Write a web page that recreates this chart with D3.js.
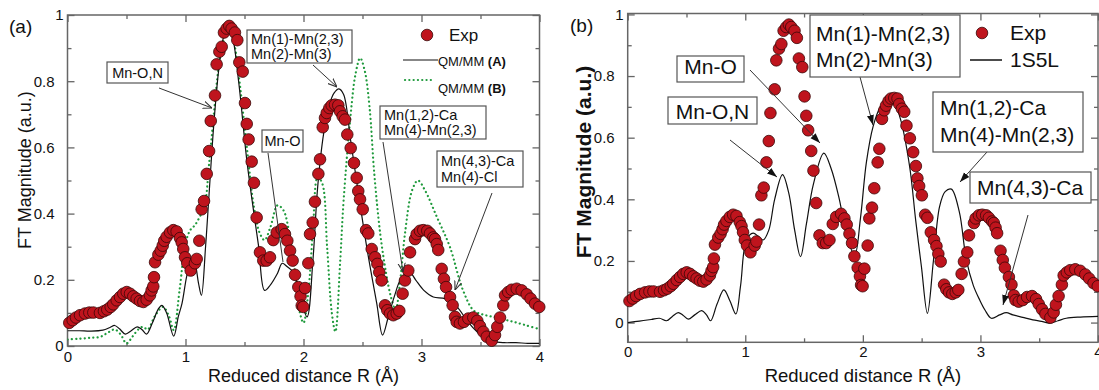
<!DOCTYPE html>
<html><head><meta charset="utf-8">
<script src="https://cdn.jsdelivr.net/npm/d3@7"></script>
<style>
body{margin:0;background:#fff;}
svg{display:block;font-family:"Liberation Sans",Arial,Helvetica,sans-serif;}
</style></head>
<body>
<svg id="chart" width="1099" height="390"></svg>
<script>
// ---------- data ----------
const expR = [0.015,0.044,0.072,0.106,0.148,0.185,0.219,0.275,0.309,0.337,0.366,0.388,0.417,0.445,0.473,0.502,0.530,0.558,0.586,0.614,0.643,0.671,0.699,0.713,0.727,0.733,0.742,0.770,0.790,0.807,0.820,0.840,0.869,0.897,0.925,0.953,0.968,0.981,0.996,1.015,1.044,1.080,1.095,1.117,1.137,1.157,1.180,1.200,1.214,1.250,1.264,1.287,1.307,1.326,1.349,1.371,1.391,1.419,1.439,1.456,1.485,1.504,1.519,1.535,1.561,1.580,1.603,1.631,1.659,1.688,1.716,1.744,1.773,1.815,1.843,1.863,1.886,1.908,1.928,1.956,1.975,1.985,1.998,2.013,2.041,2.055,2.078,2.097,2.126,2.140,2.163,2.182,2.197,2.219,2.239,2.267,2.295,2.309,2.332,2.352,2.371,2.400,2.428,2.451,2.464,2.479,2.502,2.530,2.549,2.578,2.606,2.626,2.642,2.662,2.691,2.710,2.733,2.761,2.790,2.812,2.840,2.860,2.888,2.903,2.945,2.959,2.987,3.015,3.049,3.072,3.100,3.114,3.129,3.142,3.171,3.190,3.208,3.242,3.264,3.284,3.298,3.326,3.360,3.397,3.439,3.473,3.496,3.524,3.553,3.595,3.623,3.642,3.665,3.693,3.708,3.735,3.764,3.807,3.849,3.892,3.925,3.962,3.998];
const expV = [0.070,0.078,0.086,0.093,0.098,0.101,0.101,0.100,0.105,0.110,0.118,0.126,0.138,0.148,0.158,0.163,0.158,0.150,0.143,0.136,0.133,0.140,0.153,0.168,0.180,0.208,0.253,0.276,0.288,0.303,0.318,0.330,0.343,0.350,0.346,0.326,0.313,0.293,0.268,0.250,0.228,0.250,0.263,0.318,0.413,0.438,0.520,0.589,0.680,0.757,0.851,0.889,0.904,0.947,0.959,0.967,0.959,0.947,0.924,0.857,0.829,0.734,0.671,0.624,0.557,0.493,0.388,0.283,0.258,0.258,0.268,0.320,0.343,0.353,0.338,0.318,0.288,0.258,0.215,0.178,0.150,0.122,0.118,0.175,0.250,0.338,0.373,0.436,0.520,0.564,0.661,0.689,0.704,0.719,0.727,0.729,0.727,0.709,0.694,0.684,0.639,0.598,0.553,0.508,0.468,0.443,0.413,0.350,0.340,0.293,0.268,0.248,0.223,0.198,0.123,0.108,0.098,0.093,0.098,0.106,0.158,0.198,0.228,0.283,0.323,0.338,0.348,0.350,0.348,0.340,0.328,0.323,0.308,0.290,0.233,0.203,0.178,0.148,0.123,0.088,0.073,0.068,0.073,0.083,0.086,0.076,0.060,0.043,0.028,0.016,0.033,0.058,0.086,0.123,0.153,0.163,0.170,0.173,0.168,0.156,0.143,0.128,0.118];

const qmA_R = [0,0.1,0.2,0.3,0.36,0.40,0.44,0.49,0.54,0.59,0.63,0.67,0.72,0.77,0.80,0.84,0.90,0.94,0.97,1.01,1.05,1.08,1.11,1.135,1.17,1.20,1.24,1.28,1.32,1.36,1.40,1.45,1.52,1.58,1.62,1.67,1.72,1.78,1.82,1.86,1.92,1.97,2.03,2.08,2.12,2.17,2.22,2.26,2.30,2.34,2.40,2.47,2.54,2.62,2.67,2.72,2.77,2.82,2.86,2.90,2.95,3.02,3.10,3.20,3.30,3.38,3.45,3.50,3.56,3.61,3.70,3.80,3.90,4.0];
const qmA_V = [0.046,0.046,0.045,0.048,0.056,0.062,0.052,0.036,0.046,0.058,0.050,0.036,0.070,0.112,0.123,0.100,0.030,0.090,0.128,0.210,0.265,0.250,0.190,0.153,0.300,0.460,0.670,0.830,0.930,0.964,0.930,0.800,0.560,0.400,0.300,0.168,0.185,0.220,0.250,0.240,0.220,0.150,0.088,0.260,0.480,0.640,0.730,0.765,0.777,0.760,0.620,0.450,0.290,0.130,0.033,0.090,0.150,0.200,0.218,0.223,0.200,0.168,0.148,0.143,0.118,0.080,0.050,0.033,0.020,0.013,0.010,0.010,0.008,0.008];

const qmB_R = [0,0.1,0.2,0.28,0.34,0.40,0.45,0.50,0.55,0.60,0.64,0.68,0.74,0.81,0.86,0.90,0.95,1.00,1.04,1.08,1.12,1.16,1.20,1.24,1.28,1.32,1.36,1.40,1.45,1.52,1.58,1.63,1.67,1.72,1.78,1.83,1.88,1.93,1.97,2.00,2.04,2.08,2.12,2.16,2.20,2.24,2.27,2.31,2.34,2.40,2.44,2.48,2.52,2.56,2.60,2.65,2.70,2.74,2.78,2.82,2.86,2.92,2.97,3.03,3.13,3.24,3.35,3.44,3.52,3.61,3.70,3.78,3.88,3.98];
const qmB_V = [0.020,0.022,0.025,0.028,0.040,0.050,0.035,0.008,0.028,0.050,0.058,0.050,0.090,0.118,0.090,0.048,0.170,0.310,0.350,0.365,0.390,0.420,0.550,0.700,0.840,0.920,0.950,0.930,0.820,0.600,0.420,0.340,0.320,0.360,0.425,0.410,0.340,0.220,0.100,0.070,0.160,0.350,0.510,0.490,0.300,0.100,0.043,0.250,0.440,0.700,0.820,0.870,0.830,0.720,0.520,0.340,0.220,0.150,0.110,0.200,0.340,0.470,0.500,0.470,0.390,0.300,0.170,0.108,0.095,0.088,0.080,0.073,0.063,0.053];

const s5l_R = [0,0.1,0.2,0.27,0.33,0.38,0.43,0.47,0.515,0.57,0.63,0.67,0.705,0.76,0.818,0.87,0.92,0.96,1.01,1.067,1.11,1.152,1.20,1.25,1.317,1.37,1.42,1.47,1.52,1.58,1.668,1.73,1.80,1.87,1.931,1.98,2.03,2.087,2.15,2.243,2.32,2.398,2.45,2.498,2.549,2.60,2.653,2.70,2.753,2.82,2.88,2.94,2.993,3.04,3.093,3.163,3.22,3.276,3.36,3.446,3.52,3.588,3.66,3.73,3.85,4.0];
const s5l_V = [0,0.005,0.010,0.014,0.006,0.020,0.032,0.024,0.011,0.025,0.039,0.025,0.006,0.060,0.106,0.070,0.028,0.120,0.268,0.290,0.280,0.268,0.300,0.400,0.480,0.420,0.300,0.214,0.320,0.450,0.550,0.500,0.400,0.270,0.220,0.340,0.520,0.636,0.700,0.734,0.660,0.506,0.330,0.182,0.030,0.200,0.377,0.425,0.433,0.360,0.204,0.120,0.074,0.040,0.014,0.025,0.032,0.025,0.017,0.009,0.004,-0.002,0.006,0.014,0.018,0.020];

const xTicks = [0,1,2,3,4];
const xMinor = [0.5,1.5,2.5,3.5];
const yTicks = [0,0.2,0.4,0.6,0.8,1];
const yMinor = [0.1,0.3,0.5,0.7,0.9];
const yTickLabels = ["0","0.2","0.4","0.6","0.8","1"];
const xLabel = "Reduced distance R (Å)";
const yLabel = "FT Magnitude (a.u.)";

// ---------- drawing ----------
const svg = d3.select("#chart");
const FRAME = "#666";
const defs = svg.append("defs");
defs.append("marker").attr("id","openHead").attr("viewBox","0 0 10 10")
  .attr("refX",10).attr("refY",5).attr("markerWidth",9).attr("markerHeight",9)
  .attr("markerUnits","userSpaceOnUse").attr("orient","auto")
  .append("path").attr("d","M0,1 L10,5 L0,9").attr("fill","none").attr("stroke","#333").attr("stroke-width",1.2);
defs.append("marker").attr("id","fillHead").attr("viewBox","0 0 10 10")
  .attr("refX",10).attr("refY",5).attr("markerWidth",10).attr("markerHeight",10)
  .attr("markerUnits","userSpaceOnUse").attr("orient","auto")
  .append("path").attr("d","M0,1.5 L10,5 L0,8.5 Z").attr("fill","#111");

function panel(cfg){
  const x = d3.scaleLinear().domain([0,4]).range([cfg.x0,cfg.x1]);
  const y = d3.scaleLinear().domain(cfg.yDom).range([cfg.yBot,cfg.yTop]);
  const g = svg.append("g");
  const tickStyle = sel => { sel.select(".domain").remove(); sel.selectAll("line").attr("stroke",FRAME).attr("stroke-width",1.3); };
  g.append("g").attr("transform",`translate(0,${cfg.yBot})`)
    .call(d3.axisBottom(x).tickValues(xTicks).tickSize(-7).tickPadding(cfg.xPad).tickFormat(d3.format("d")))
    .call(tickStyle)
    .selectAll("text").attr("font-size",15).attr("fill","#111").attr("font-family","Liberation Sans, Arial, sans-serif");
  g.append("g").attr("transform",`translate(0,${cfg.yBot})`)
    .call(d3.axisBottom(x).tickValues(xMinor).tickSize(-4).tickFormat("")).call(tickStyle);
  g.append("g").attr("transform",`translate(0,${cfg.yTop})`)
    .call(d3.axisTop(x).tickValues(xTicks).tickSize(-7).tickFormat("")).call(tickStyle);
  g.append("g").attr("transform",`translate(0,${cfg.yTop})`)
    .call(d3.axisTop(x).tickValues(xMinor).tickSize(-4).tickFormat("")).call(tickStyle);
  const ly = g.append("g").attr("transform",`translate(${cfg.x0},0)`)
    .call(d3.axisLeft(y).tickValues(yTicks).tickSize(-7).tickFormat((d,i)=>yTickLabels[i]))
    .call(tickStyle);
  ly.selectAll("text").attr("font-size",15).attr("fill","#111").attr("font-family","Liberation Sans, Arial, sans-serif")
    .attr("x",(d)=> (d===0||d===1) ? -4 : -13);
  g.append("g").attr("transform",`translate(${cfg.x0},0)`)
    .call(d3.axisLeft(y).tickValues(yMinor).tickSize(-4).tickFormat("")).call(tickStyle);
  g.append("g").attr("transform",`translate(${cfg.x1},0)`)
    .call(d3.axisRight(y).tickValues(yTicks).tickSize(-7).tickFormat("")).call(tickStyle);
  g.append("g").attr("transform",`translate(${cfg.x1},0)`)
    .call(d3.axisRight(y).tickValues(yMinor).tickSize(-4).tickFormat("")).call(tickStyle);
  g.append("rect").attr("x",cfg.x0).attr("y",cfg.yTop).attr("width",cfg.x1-cfg.x0).attr("height",cfg.yBot-cfg.yTop)
    .attr("fill","none").attr("stroke",FRAME).attr("stroke-width",1.5);

  const clipId = "clip"+cfg.name;
  defs.append("clipPath").attr("id",clipId).append("rect")
    .attr("x",cfg.x0).attr("y",cfg.yTop).attr("width",cfg.x1-cfg.x0).attr("height",cfg.yBot-cfg.yTop);
  const plot = g.append("g").attr("clip-path",`url(#${clipId})`);
  const line = d3.line().x(d=>x(d[0])).y(d=>y(d[1])).curve(d3.curveCatmullRom.alpha(0.5));
  cfg.lines.forEach(L=>{
    plot.append("path").datum(d3.zip(L.r,L.v)).attr("d",line).attr("fill","none")
      .attr("stroke",L.color).attr("stroke-width",L.w).attr("stroke-dasharray",L.dash||null)
      .attr("stroke-linecap",L.cap||"butt");
  });
  g.append("g").selectAll("circle").data(d3.zip(expR,expV)).join("circle")
    .attr("cx",d=>x(d[0])).attr("cy",d=>y(d[1])).attr("r",5.8)
    .attr("fill","#bf141d").attr("stroke","#3a0808").attr("stroke-width",0.8);

  g.append("text").attr("x",(cfg.x0+cfg.x1)/2).attr("y",382).attr("text-anchor","middle")
    .attr("font-size",cfg.xLabSize).attr("fill","#111").text(xLabel);
  g.append("text").attr("transform",`translate(${cfg.yLabX},${cfg.yLabY}) rotate(-90)`).attr("text-anchor","middle")
    .attr("font-size",cfg.yLabSize).attr("font-weight",cfg.yLabWeight).attr("fill","#111").text(yLabel);
  g.append("text").attr("x",cfg.tagX).attr("y",cfg.tagY).attr("font-size",19).attr("fill","#111").text(cfg.tag);
  return {x,y,g};
}

const pa = panel({name:"a",x0:67.5,x1:539.5,yTop:15,yBot:346,yDom:[0,1],xPad:5,
  xLabSize:18,yLabSize:18,yLabWeight:"normal",yLabX:31,yLabY:170,tag:"(a)",tagX:9,tagY:33,
  lines:[
    {r:qmB_R,v:qmB_V,color:"#1f9a3c",w:2.2,dash:"0.1,4.2",cap:"round"},
    {r:qmA_R,v:qmA_V,color:"#111",w:1.2}
  ]});
const pb = panel({name:"b",x0:627.7,x1:1098,yTop:13.5,yBot:342.3,yDom:[-0.064,1.003],xPad:4,
  xLabSize:18.5,yLabSize:21,yLabWeight:"bold",yLabX:591,yLabY:162,tag:"(b)",tagX:570,tagY:32,
  lines:[{r:s5l_R,v:s5l_V,color:"#111",w:1.2}]});

// ---------- legends ----------
const lg = svg.append("g").attr("fill","#111");
lg.append("circle").attr("cx",427).attr("cy",35).attr("r",5.8).attr("fill","#bf141d").attr("stroke","#3a0808").attr("stroke-width",0.8);
lg.append("text").attr("x",449).attr("y",41).attr("font-size",17).text("Exp");
lg.append("line").attr("x1",403).attr("x2",438).attr("y1",60).attr("y2",60).attr("stroke","#111").attr("stroke-width",1.2);
const tA = lg.append("text").attr("x",438).attr("y",66).attr("font-size",13);
tA.append("tspan").text("QM/MM ");
tA.append("tspan").attr("font-weight","bold").text("(A)");
lg.append("line").attr("x1",405).attr("x2",433).attr("y1",80).attr("y2",80).attr("stroke","#1f9a3c").attr("stroke-width",2.2).attr("stroke-dasharray","0.1,4.2").attr("stroke-linecap","round");
const tB = lg.append("text").attr("x",438).attr("y",93).attr("font-size",13);
tB.append("tspan").text("QM/MM ");
tB.append("tspan").attr("font-weight","bold").text("(B)");

lg.append("circle").attr("cx",982).attr("cy",33).attr("r",5.8).attr("fill","#bf141d").attr("stroke","#3a0808").attr("stroke-width",0.8);
lg.append("text").attr("x",1010).attr("y",40).attr("font-size",21).text("Exp");
lg.append("line").attr("x1",970).attr("x2",1002).attr("y1",60).attr("y2",60).attr("stroke","#111").attr("stroke-width",1.5);
lg.append("text").attr("x",1010).attr("y",67).attr("font-size",21).text("1S5L");

// ---------- annotations ----------
const annA = [
  {lines:["Mn-O,N"],bx:107,by:62,bw:61,bh:21,tx:137.5,anchor:"middle",base:[78],from:[159,88],to:[212,108],head:"openHead"},
  {lines:["Mn(1)-Mn(2,3)","Mn(2)-Mn(3)"],bx:247,by:30,bw:105,bh:33,tx:251,anchor:"start",base:[43.5,58.5],from:[313,65],to:[337,87],head:"openHead"},
  {lines:["Mn-O"],bx:262,by:130,bw:41,bh:22,tx:282.5,anchor:"middle",base:[146],from:[268,153],to:[283,262],head:null},
  {lines:["Mn(1,2)-Ca","Mn(4)-Mn(2,3)"],bx:380,by:106,bw:106,bh:33,tx:384,anchor:"start",base:[119.5,134.5],from:[383,142],to:[403,272],head:"openHead"},
  {lines:["Mn(4,3)-Ca","Mn(4)-Cl"],bx:437,by:151,bw:86,bh:36,tx:441,anchor:"start",base:[166,181.5],from:[492,193],to:[455,290],head:"openHead"}
];
const annB = [
  {lines:["Mn-O"],bx:677,by:56,bw:67,bh:26,tx:710.5,anchor:"middle",base:[74],from:[750,70],to:[820,143],head:"fillHead"},
  {lines:["Mn-O,N"],bx:668,by:97,bw:89,bh:27,tx:712.5,anchor:"middle",base:[119],from:[730,140],to:[777,177],head:"fillHead"},
  {lines:["Mn(1)-Mn(2,3)","Mn(2)-Mn(3)"],bx:810,by:15,bw:150,bh:62,tx:816,anchor:"start",base:[41,67],from:[860,77],to:[873,125],head:"fillHead"},
  {lines:["Mn(1,2)-Ca","Mn(4)-Mn(2,3)"],bx:933,by:92,bw:150,bh:60,tx:940,anchor:"start",base:[115,142],from:[987,152],to:[960,182],head:"fillHead"},
  {lines:["Mn(4,3)-Ca"],bx:970,by:172,bw:121,bh:31,tx:977,anchor:"start",base:[195],from:[1028,215],to:[1003,305],head:"fillHead"}
];
function drawAnn(list,fs){
  const g = svg.append("g");
  list.forEach(a=>{
    g.append("line").attr("x1",a.from[0]).attr("y1",a.from[1]).attr("x2",a.to[0]).attr("y2",a.to[1])
      .attr("stroke","#333").attr("stroke-width",1)
      .attr("marker-end",a.head?`url(#${a.head})`:null);
    g.append("rect").attr("x",a.bx).attr("y",a.by).attr("width",a.bw).attr("height",a.bh)
      .attr("fill","#fff").attr("stroke","#555").attr("stroke-width",1.2);
    a.lines.forEach((t,i)=>{
      g.append("text").attr("x",a.tx).attr("y",a.base[i]).attr("text-anchor",a.anchor)
        .attr("font-size",fs).attr("fill","#111").text(t);
    });
  });
}
drawAnn(annA,14.5);
drawAnn(annB,21);
</script>
</body></html>
